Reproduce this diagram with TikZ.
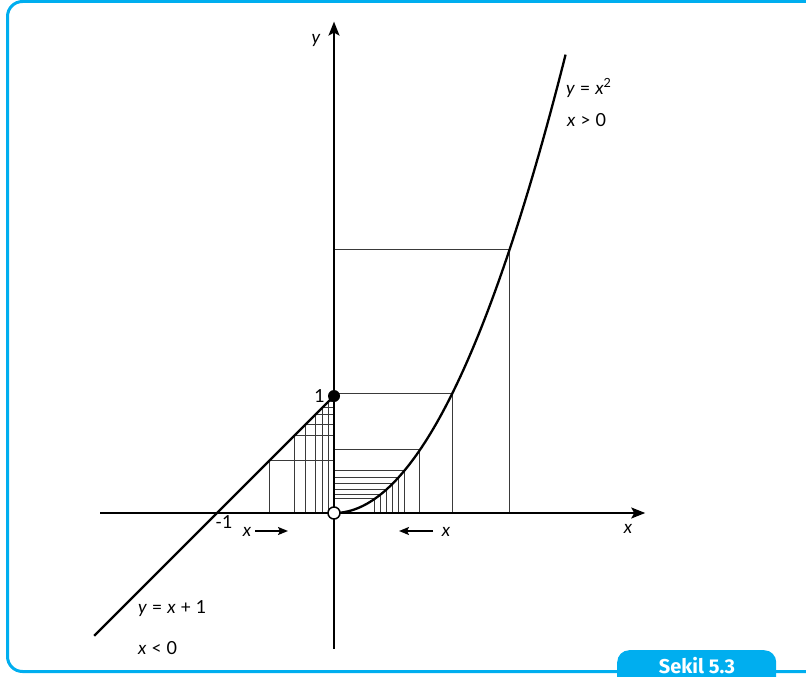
\documentclass[tikz,border=0pt]{standalone}
\usepackage{fontspec}
\setmainfont{Lato}
\newfontfamily\badgefont{Fira Sans}
\usetikzlibrary{arrows.meta}
\definecolor{framecyan}{HTML}{00AEEF}
\definecolor{gridgray}{HTML}{3A3A3A}
\newcommand\lblfont{\fontsize{18}{21}\selectfont\spaceskip 0.27em\relax}

\begin{document}
\begin{tikzpicture}[x=1pt, y=-1pt,
    lbl/.style={font=\lblfont, inner sep=0pt},
    gridline/.style={gridgray, line width=1pt},
    curve/.style={black, line width=2.3pt},
    axisline/.style={black, line width=1.8pt, -{Stealth[length=14pt, width=11pt, inset=3pt]}},
    hintarrow/.style={black, line width=1.8pt, -{Stealth[length=10pt, width=8pt, inset=2pt]}}]
    \useasboundingbox (0,0) rectangle (806,677);
    % frame and caption tab
    \draw[framecyan, line width=3pt, rounded corners=15pt]
        (812,1.5) -- (7.5,1.5) -- (7.5,671.5) -- (812,671.5);
    \node[fill=framecyan, rounded corners=12pt, anchor=north west, inner sep=0pt,
          minimum width=159pt, minimum height=40pt] (badge) at (617,650) {};
    \node[text=white, inner sep=0pt, anchor=base,
          font=\badgefont\bfseries\fontsize{20}{24}\selectfont] (badgetext) at (697,673) {Sekil 5.3};

    \begin{scope}[shift={(334,513)}, x=117pt, y=117pt]
        % steps under y = x + 1
        \foreach \a in {-0.55,-0.34,-0.245,-0.16,-0.1,-0.045}
            \draw[gridline] (\a,0) |- (0,{\a+1});
        % steps under y = x^2
        \foreach \b in {1.5,1.01,0.735,0.6,0.55,0.5,0.45,0.4,0.35}
            \draw[gridline] (\b,0) |- (0,{\b*\b});

        \coordinate (xstart) at (-2,0);
        \coordinate (xend) at (2.66,0);
        \coordinate (ystart) at (0,-1.16);
        \coordinate (yend) at (0,4.2);
        \draw[axisline] (xstart) -- (xend);
        \draw[axisline] (ystart) -- (yend);

        \coordinate (linestart) at (-2.05,-1.05);
        \draw[curve] (linestart) -- (0,1);
        \draw[curve, domain=0:1.98, samples=80] plot (\x,{\x*\x});

        \node[circle, fill=black, minimum size=12pt, inner sep=0pt] (one) at (0,1) {};
        \node[circle, draw=black, fill=white, line width=1.5pt, minimum size=12pt, inner sep=0pt] (origin) at (0,0) {};
    \end{scope}

    % labels
    \node[lbl] (ylabel) at (316,40) {\textit{y}};
    \node[lbl] (xlabel) at (628,529) {\textit{x}};
    \node[lbl] (minusone) at (224,522) {-1};
    \node[lbl, anchor=east] (onelabel) at (325,396) {1};
    \node[lbl, anchor=west] (parablabel) at (566,88) {\textit{y} = \textit{x}\textsuperscript{2}};
    \node[lbl, anchor=west] (parabcond) at (567,120) {\textit{x} > 0};
    \node[lbl, anchor=west] (linelabel) at (138,609) {\textit{y} = \textit{x} + 1};
    \node[lbl, anchor=west] (linecond) at (138,648) {\textit{x} < 0};

    % x tends to 0 from both sides
    \node[lbl] (xleft) at (247,532) {\textit{x}};
    \coordinate (leftfrom) at (255,531);
    \coordinate (leftto) at (288,531);
    \draw[hintarrow] (leftfrom) -- (leftto);
    \node[lbl] (xright) at (446,532) {\textit{x}};
    \coordinate (rightfrom) at (433,531);
    \coordinate (rightto) at (399,531);
    \draw[hintarrow] (rightfrom) -- (rightto);
\end{tikzpicture}
\end{document}
